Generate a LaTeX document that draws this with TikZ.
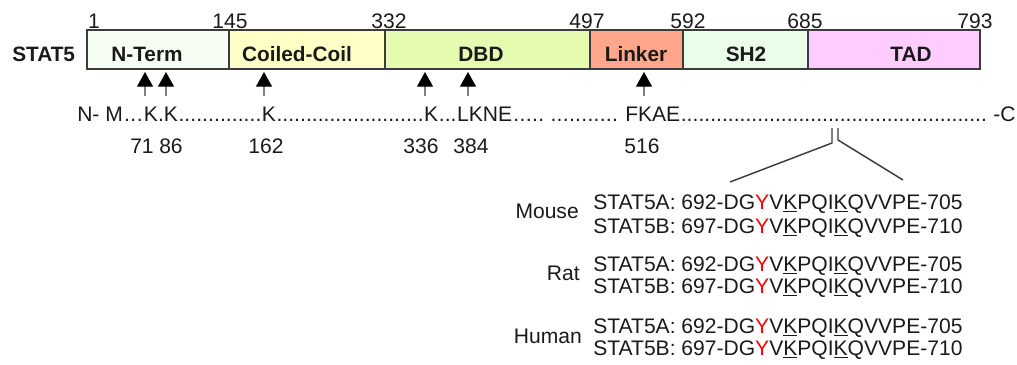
\documentclass[tikz,border=0pt]{standalone}
\usepackage{fontspec}
\setmainfont{Liberation Sans}
\usetikzlibrary{arrows.meta,fit}
\newlength\pxu
\pxu=0.75pt
\newcommand\dotrun[1]{\hbox to #1\pxu{\xleaders\hbox{.}\hfil}}
\newcommand\mysite{\textcolor{red}{Y}V\underline{K}PQI\underline{K}QVVPE}
\definecolor{cnterm}{HTML}{F6FEF4}
\definecolor{ccoil}{HTML}{FFFFC8}
\definecolor{cdbd}{HTML}{E4FBB0}
\definecolor{clink}{HTML}{FFA68C}
\definecolor{csh}{HTML}{EAFDE8}
\definecolor{ctad}{HTML}{FFCCFF}
\definecolor{ink}{HTML}{1A1A1A}
\tikzset{
  every node/.style={font=\fontsize{15.8}{18}\selectfont, inner sep=0pt, text=ink},
  dom/.style={draw=ink!85, line width=1.4pt, inner sep=0pt},
  dlabel/.style={font=\fontsize{15.6}{18}\selectfont\bfseries, anchor=base},
  num/.style={anchor=base},
  seq/.style={anchor=base west},
  stem/.style={draw=gray, line width=0.9pt, -{Triangle[width=12pt,length=11pt,color=black]}},
  brk/.style={draw=ink!85, line width=1.1pt},
}
\begin{document}
\begin{tikzpicture}[x=0.75pt,y=-0.75pt]
\useasboundingbox (0,0) rectangle (1017,364);
% domain boxes
\node[dom, fill=cnterm, fit={(87,30)(229,69)}] (nterm) {};
\node[dom, fill=ccoil, fit={(229,30)(385,69)}] (coil) {};
\node[dom, fill=cdbd, fit={(385,30)(590,69)}] (dbd) {};
\node[dom, fill=clink, fit={(590,30)(683,69)}] (link) {};
\node[dom, fill=csh, fit={(683,30)(808,69)}] (sh2) {};
\node[dom, fill=ctad, fit={(808,30)(980,69)}] (tad) {};
% labels
\node[dlabel, anchor=base west] (stat5) at (12,61) {STAT5};
\node[dlabel] (lnterm) at (147,61) {N-Term};
\node[dlabel] (lcoil) at (297,61) {Coiled-Coil};
\node[dlabel] (ldbd) at (481,61) {DBD};
\node[dlabel] (llink) at (636,61) {Linker};
\node[dlabel] (lsh2) at (746,61) {SH2};
\node[dlabel] (ltad) at (911,61) {TAD};
% top numbers
\node[num] (p1) at (94,28) {1};
\node[num] (p145) at (230,28) {145};
\node[num] (p332) at (389,28) {332};
\node[num] (p497) at (587,28) {497};
\node[num] (p592) at (688,28) {592};
\node[num] (p685) at (805,28) {685};
\node[num] (p793) at (975,28) {793};
% sequence line
\node[seq] (s1) at (77,121) {N- M};
\node[seq] (d1) at (s1.base east) {\dotrun{20}};
\node[seq] (s2) at (d1.base east) {K.K};
\node[seq] (d2) at (s2.base east) {\dotrun{83}};
\node[seq] (s3) at (d2.base east) {K};
\node[seq] (d3) at (s3.base east) {\dotrun{147}};
\node[seq] (s4) at (d3.base east) {K};
\node[seq] (d4) at (s4.base east) {\dotrun{18}};
\node[seq] (s5) at (d4.base east) {LKNE};
\node[seq] (d5) at (s5.base east) {\dotrun{32}};
\node[seq] (d6) at (550,121) {\dotrun{68}};
\node[seq] (s6) at (625,121) {FKAE};
\node[seq] (d7) at (s6.base east) {\dotrun{306}};
\node[seq] (s7) at (993,121) {-C};
% numbers below
\node[num] (n71) at (142,153) {71};
\node[num] (n86) at (171,153) {86};
\node[num] (n162) at (266,153) {162};
\node[num] (n336) at (421,153) {336};
\node[num] (n384) at (471,153) {384};
\node[num] (n516) at (642,153) {516};
% arrows
\foreach \x/\n in {145/a,166/b,264/c,425/d,468/e,644/f}{
  \coordinate (t\n) at (\x,72);
  \coordinate (b\n) at (\x,96);
  \draw[stem] (b\n) -- (t\n);
}
% bracket
\coordinate (bl1) at (832,128);
\coordinate (bl2) at (832,143);
\coordinate (bl3) at (730,182);
\coordinate (br1) at (838,128);
\coordinate (br2) at (838,140);
\coordinate (br3) at (903,180);
\draw[brk] (bl1) -- (bl2) -- (bl3);
\draw[brk] (br1) -- (br2) -- (br3);
% species rows
\node[seq] (r1) at (593,209) {STAT5A: 692-DG\mysite-705};
\node[seq] (r2) at (593,233) {STAT5B: 697-DG\mysite-710};
\node[seq] (r3) at (593,271.5) {STAT5A: 692-DG\mysite-705};
\node[seq] (r4) at (593,293) {STAT5B: 697-DG\mysite-710};
\node[seq] (r5) at (593,333) {STAT5A: 692-DG\mysite-705};
\node[seq] (r6) at (593,355) {STAT5B: 697-DG\mysite-710};
\node[anchor=base east] (mouse) at (579,218) {Mouse};
\node[anchor=base east] (rat) at (580,280) {Rat};
\node[anchor=base east] (human) at (582,343) {Human};
\end{tikzpicture}
\end{document}
